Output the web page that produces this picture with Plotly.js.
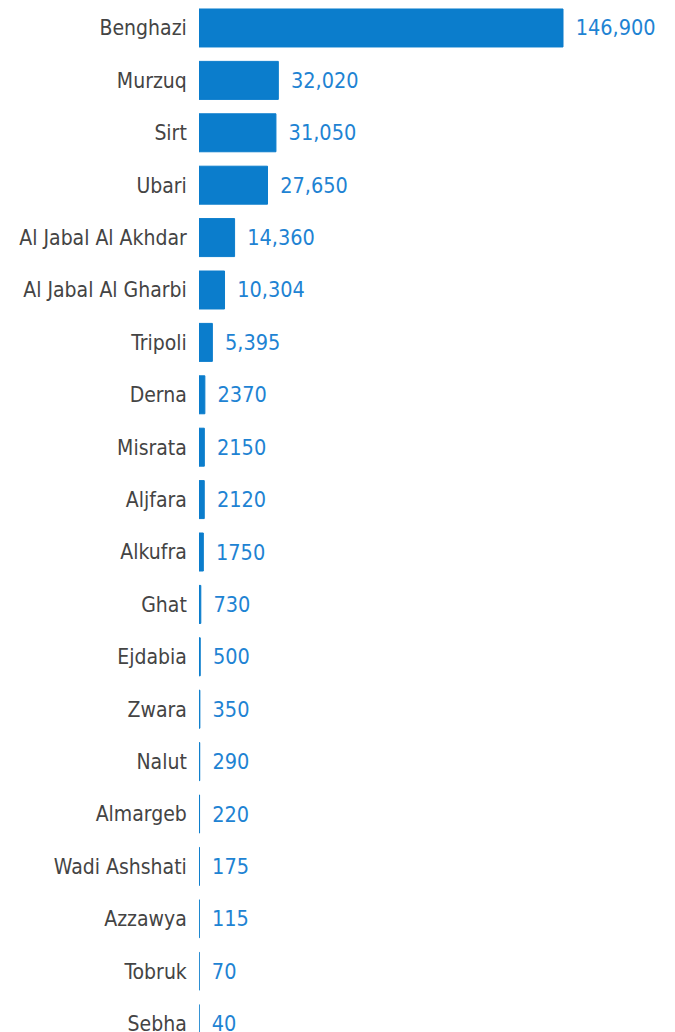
<!DOCTYPE html>
<html>
<head>
<meta charset="utf-8">
<script src="https://cdn.plot.ly/plotly-3.0.1.min.js"></script>
<style>html,body{margin:0;padding:0;background:#fff;}#chart{width:675px;height:1032px;}</style>
</head>
<body>
<div id="chart"></div>
<script>
const categories = ["Benghazi","Murzuq","Sirt","Ubari","Al Jabal Al Akhdar","Al Jabal Al Gharbi","Tripoli","Derna","Misrata","Aljfara","Alkufra","Ghat","Ejdabia","Zwara","Nalut","Almargeb","Wadi Ashshati","Azzawya","Tobruk","Sebha"];
const values = [146900,32020,31050,27650,14360,10304,5395,2370,2150,2120,1750,730,500,350,290,220,175,115,70,40];
const valueLabels = ["146,900","32,020","31,050","27,650","14,360","10,304","5,395","2370","2150","2120","1750","730","500","350","290","220","175","115","70","40"];

const FONT = "'DejaVu Sans Condensed', 'Liberation Sans Narrow', 'Roboto', sans-serif";

const trace = {
  type: 'bar',
  orientation: 'h',
  x: values,
  y: categories,
  text: valueLabels.map(t => '\u2002' + t),
  textposition: 'outside',
  cliponaxis: false,
  constraintext: 'none',
  textfont: {family: FONT, size: 21.5, color: '#1e83d3'},
  marker: {color: '#0b7dcc', line: {color: '#0b7dcc', width: 1}},
  hoverinfo: 'none'
};

const layout = {
  width: 675,
  height: 1032,
  margin: {l: 199, r: 0, t: 0, b: 0, pad: 0},
  paper_bgcolor: '#fff',
  plot_bgcolor: '#fff',
  showlegend: false,
  bargap: 0.275,
  font: {family: FONT, size: 21, color: '#444'},
  xaxis: {range: [0, 192100], visible: false, showgrid: false, zeroline: false, fixedrange: true},
  yaxis: {
    type: 'category',
    range: [19.16, -0.534],
    showgrid: false, zeroline: false, showline: false,
    ticks: 'outside', ticklen: 7, tickcolor: 'rgba(0,0,0,0)',
    tickfont: {family: FONT, size: 21, color: '#444'},
    fixedrange: true
  }
};

Plotly.newPlot('chart', [trace], layout, {displayModeBar: false, staticPlot: true});
</script>
</body>
</html>
